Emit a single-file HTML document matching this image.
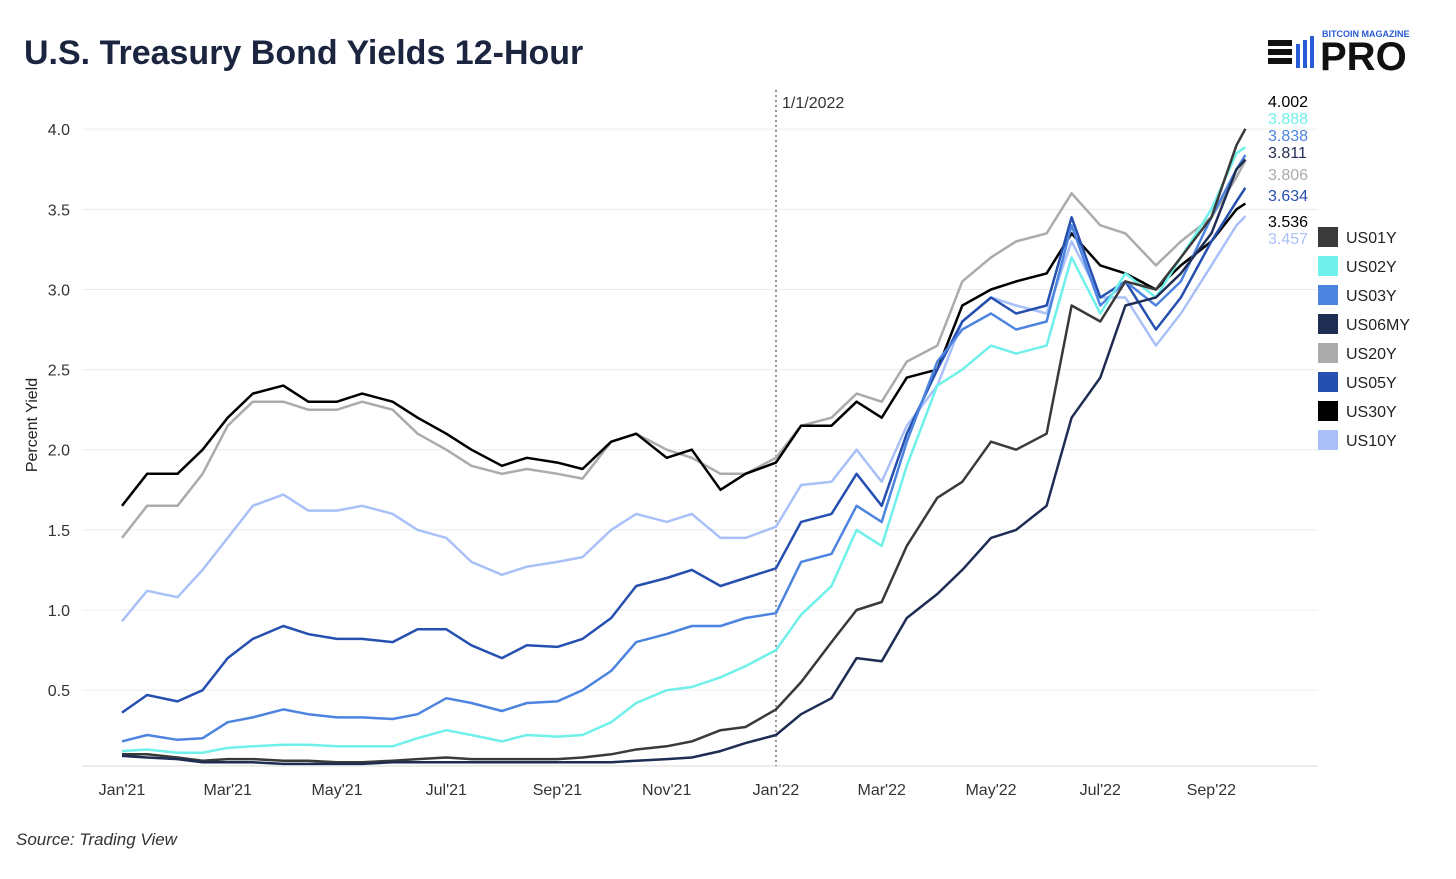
<!DOCTYPE html>
<html><head><meta charset="utf-8"><style>
body{margin:0;background:#fff;width:1456px;height:874px;overflow:hidden;font-family:"Liberation Sans",sans-serif}
svg text{font-family:"Liberation Sans",sans-serif}
</style></head><body>
<svg id="c" width="1456" height="874" xmlns="http://www.w3.org/2000/svg">
<text x="24" y="64" font-size="34" font-weight="bold" fill="#1b2540">U.S. Treasury Bond Yields 12-Hour</text>
<g>
<text x="1322" y="37" font-size="9" font-weight="bold" fill="#2a5bd7">BITCOIN MAGAZINE</text>
<text x="1320" y="70" font-size="40" font-weight="bold" fill="#111">PRO</text>
<rect x="1268" y="40" width="24" height="6" fill="#111"/><rect x="1268" y="49" width="24" height="6" fill="#111"/><rect x="1268" y="58" width="24" height="6" fill="#111"/>
<rect x="1296" y="44" width="4" height="24" fill="#2a5bd7"/><rect x="1303" y="40" width="4" height="28" fill="#2a5bd7"/><rect x="1310" y="36" width="4" height="32" fill="#2a5bd7"/>
</g>
<text x="16" y="845" font-size="17" font-style="italic" fill="#333">Source: Trading View</text>
<text transform="translate(37,425) rotate(-90)" text-anchor="middle" font-size="16" fill="#222">Percent Yield</text>
<g id="grid"></g><g id="lines"></g><g id="labels"></g><g id="legend"></g>
</svg>
<script>
const yTicks=[0.5,1.0,1.5,2.0,2.5,3.0,3.5,4.0];
const xTickLabels=["Jan'21","Mar'21","May'21","Jul'21","Sep'21","Nov'21","Jan'22","Mar'22","May'22","Jul'22","Sep'22"];
const xTickDays=[0,59,120,181,243,304,365,424,485,546,608];
const dates=[0,14,31,45,59,73,90,104,120,134,151,165,181,195,212,226,243,257,273,287,304,318,334,348,365,379,396,410,424,438,455,469,485,499,516,530,546,560,577,591,608,622,627];
const seriesNames=["US01Y","US02Y","US03Y","US06MY","US20Y","US05Y","US30Y","US10Y"];
const seriesColors=["#3a3a3a","#6ff0ea","#4d84e0","#1f2d54","#ababab","#2650b0","#000000","#a9c1f8"];
const us01y=[0.10,0.10,0.08,0.06,0.07,0.07,0.06,0.06,0.05,0.05,0.06,0.07,0.08,0.07,0.07,0.07,0.07,0.08,0.10,0.13,0.15,0.18,0.25,0.27,0.38,0.55,0.80,1.00,1.05,1.40,1.70,1.80,2.05,2.00,2.10,2.90,2.80,3.05,3.00,3.20,3.45,3.90,4.002];
const us02y=[0.12,0.13,0.11,0.11,0.14,0.15,0.16,0.16,0.15,0.15,0.15,0.20,0.25,0.22,0.18,0.22,0.21,0.22,0.30,0.42,0.50,0.52,0.58,0.65,0.75,0.97,1.15,1.50,1.40,1.90,2.40,2.50,2.65,2.60,2.65,3.20,2.85,3.10,2.95,3.20,3.50,3.85,3.888];
const us03y=[0.18,0.22,0.19,0.20,0.30,0.33,0.38,0.35,0.33,0.33,0.32,0.35,0.45,0.42,0.37,0.42,0.43,0.50,0.62,0.80,0.85,0.90,0.90,0.95,0.98,1.30,1.35,1.65,1.55,2.05,2.55,2.75,2.85,2.75,2.80,3.40,2.90,3.05,2.90,3.05,3.45,3.75,3.838];
const us06my=[0.09,0.08,0.07,0.05,0.05,0.05,0.04,0.04,0.04,0.04,0.05,0.05,0.05,0.05,0.05,0.05,0.05,0.05,0.05,0.06,0.07,0.08,0.12,0.17,0.22,0.35,0.45,0.70,0.68,0.95,1.10,1.25,1.45,1.50,1.65,2.20,2.45,2.90,2.95,3.10,3.35,3.75,3.811];
const us20y=[1.45,1.65,1.65,1.85,2.15,2.30,2.30,2.25,2.25,2.30,2.25,2.10,2.00,1.90,1.85,1.88,1.85,1.82,2.05,2.10,2.00,1.95,1.85,1.85,1.95,2.15,2.20,2.35,2.30,2.55,2.65,3.05,3.20,3.30,3.35,3.60,3.40,3.35,3.15,3.30,3.45,3.70,3.806];
const us05y=[0.36,0.47,0.43,0.50,0.70,0.82,0.90,0.85,0.82,0.82,0.80,0.88,0.88,0.78,0.70,0.78,0.77,0.82,0.95,1.15,1.20,1.25,1.15,1.20,1.26,1.55,1.60,1.85,1.65,2.10,2.50,2.80,2.95,2.85,2.90,3.45,2.95,3.05,2.75,2.95,3.30,3.55,3.634];
const us30y=[1.65,1.85,1.85,2.00,2.20,2.35,2.40,2.30,2.30,2.35,2.30,2.20,2.10,2.00,1.90,1.95,1.92,1.88,2.05,2.10,1.95,2.00,1.75,1.85,1.92,2.15,2.15,2.30,2.20,2.45,2.50,2.90,3.00,3.05,3.10,3.35,3.15,3.10,3.00,3.15,3.30,3.50,3.536];
const us10y=[0.93,1.12,1.08,1.25,1.45,1.65,1.72,1.62,1.62,1.65,1.60,1.50,1.45,1.30,1.22,1.27,1.30,1.33,1.50,1.60,1.55,1.60,1.45,1.45,1.52,1.78,1.80,2.00,1.80,2.15,2.40,2.80,2.95,2.90,2.85,3.30,2.95,2.95,2.65,2.85,3.15,3.40,3.457];
const allSeries=[us01y,us02y,us03y,us06my,us20y,us05y,us30y,us10y];
const drawOrder=[4,7,6,5,2,1,0,3];
const NS="http://www.w3.org/2000/svg";
const X=d=>122+d*(654/365);
const Y=v=>770.3-v*160.28;
function mk(tag,attrs,parent){const e=document.createElementNS(NS,tag);for(const k in attrs)e.setAttribute(k,attrs[k]);parent.appendChild(e);return e;}
const grid=document.getElementById('grid');
yTicks.forEach(t=>{
 const l=mk('line',{x1:82,x2:1318,y1:Y(t),y2:Y(t),stroke:'#ececec','stroke-width':1},grid);
 
 
 const tx=mk('text',{x:70,y:Y(t)+6,'text-anchor':'end','font-size':16,fill:'#333'},grid);
 tx.textContent=t.toFixed(1);
 
 
});
const ax=mk('line',{x1:82,x2:1318,y1:766,y2:766,stroke:'#ddd'},grid);


xTickLabels.forEach((s,i)=>{
 const tx=mk('text',{x:X(xTickDays[i]),y:795,'text-anchor':'middle','font-size':16,fill:'#333'},grid);
 tx.textContent=s;
 
 
});
const ref=mk('line',{x1:X(365),x2:X(365),y1:90,y2:766,stroke:'#999','stroke-width':2,'stroke-dasharray':'2,3'},grid);


const rt=mk('text',{x:X(365)+6,y:108,'font-size':16,fill:'#333'},grid);
rt.textContent='1/1/2022';


const lines=document.getElementById('lines');
drawOrder.forEach(i=>{
 const d=allSeries[i].map((v,j)=>(j?'L':'M')+X(dates[j]).toFixed(1)+','+Y(v).toFixed(1)).join(' ');
 const p=mk('path',{d:d,fill:'none',stroke:seriesColors[i],'stroke-width':2.5,'stroke-linejoin':'round'},lines);
 
 
});
const labels=document.getElementById('labels');
const lastOrder=[0,1,2,3,4,5,6,7].sort((a,b)=>allSeries[b][allSeries[b].length-1]-allSeries[a][allSeries[a].length-1]);
const labelY=[107,124,141,158,180,201,227,244];
lastOrder.forEach((i,k)=>{
 const v=allSeries[i][allSeries[i].length-1];
 const t=mk('text',{x:1268,y:labelY[k],'font-size':16,fill:seriesColors[i]==='#3a3a3a'?'#000':seriesColors[i]},labels);
 t.textContent=v.toFixed(3);
 
 
});
const legend=document.getElementById('legend');
seriesNames.forEach((n,i)=>{
 const g=mk('g',{},legend);
 
 
 mk('rect',{x:1318,y:227+i*29,width:20,height:20,fill:seriesColors[i]},g);
 const t=mk('text',{x:1346,y:243+i*29,'font-size':16,fill:'#222'},g);
 t.textContent=n;
});
</script>
</body></html>
